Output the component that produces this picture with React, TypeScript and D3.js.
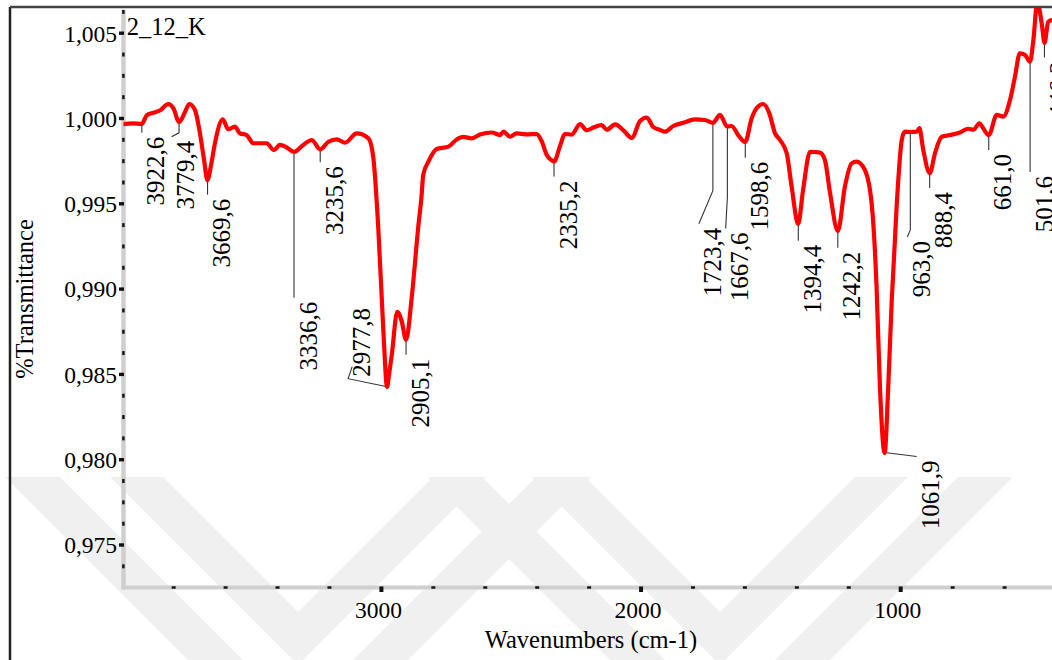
import React from "react";
import * as d3 from "d3";

// FTIR spectrum of sample 2_12_K
const wavenumbers = [
  4000, 3957, 3923, 3904, 3878, 3853, 3821, 3801, 3779, 3756, 3740, 3718, 3699, 3683, 3670, 3656, 3641, 3611,
  3590, 3564, 3545, 3519, 3493, 3442, 3414, 3391, 3365, 3337, 3301, 3268, 3236, 3204, 3172, 3140, 3095, 3050,
  3031, 3012, 2993, 2978, 2971, 2960, 2939, 2922, 2905, 2883, 2858, 2845, 2839, 2819, 2787, 2742, 2710, 2685,
  2652, 2620, 2575, 2543, 2530, 2505, 2479, 2440, 2402, 2383, 2363, 2347, 2335, 2312, 2293, 2267, 2235, 2209,
  2184, 2152, 2132, 2100, 2068, 2036, 2004, 1978, 1953, 1927, 1908, 1876, 1837, 1792, 1754, 1723, 1696, 1668,
  1651, 1626, 1599, 1574, 1555, 1529, 1506, 1484, 1465, 1439, 1420, 1395, 1376, 1349, 1311, 1292, 1272, 1242,
  1215, 1189, 1170, 1138, 1112, 1093, 1080, 1062, 1048, 1035, 1015, 996, 984, 963, 938, 928, 913, 888, 868,
  842, 810, 772, 740, 720, 697, 683, 661, 630, 605, 579, 560, 541, 521, 502, 489, 474, 457, 446, 432, 417, 400,
];
const transmittance = [
  0.99966, 0.99971, 0.99968, 1.00018, 1.00034, 1.00047, 1.00085, 1.0006, 0.99979, 1.0004, 1.00085, 1.0005,
  0.99915, 0.99757, 0.99639, 0.99727, 0.99856, 0.99995, 0.99937, 0.99952, 0.99913, 0.99903, 0.99855, 0.99855,
  0.99815, 0.99845, 0.99831, 0.99804, 0.99845, 0.99874, 0.99819, 0.99864, 0.99878, 0.99858, 0.99913, 0.99884,
  0.99768, 0.99358, 0.98772, 0.98426, 0.98496, 0.98614, 0.98867, 0.98813, 0.98702, 0.98955, 0.99366, 0.99552,
  0.99669, 0.99747, 0.99821, 0.99835, 0.99877, 0.99892, 0.99884, 0.99906, 0.99918, 0.99903, 0.99923, 0.99893,
  0.99913, 0.99907, 0.99909, 0.99868, 0.99786, 0.99757, 0.99748, 0.99839, 0.99909, 0.99906, 0.99967, 0.99931,
  0.99947, 0.99962, 0.99934, 0.99965, 0.9993, 0.99886, 0.99985, 1.00006, 0.9995, 0.99933, 0.99923, 0.99956,
  0.99975, 0.99995, 0.99991, 0.99975, 1.00021, 0.99953, 0.99956, 0.99903, 0.99862, 1.00001, 1.0006, 1.00085,
  1.0003, 0.99913, 0.99874, 0.99796, 0.996, 0.99382, 0.99581, 0.99805, 0.998, 0.99757, 0.99562, 0.99341,
  0.996, 0.99737, 0.99747, 0.99698, 0.99503, 0.99014, 0.98428, 0.98039, 0.98428, 0.98917, 0.99503, 0.99874,
  0.99923, 0.99921, 0.99923, 0.99943, 0.99815, 0.99679, 0.99796, 0.99893, 0.99903, 0.99918, 0.9994, 0.99934,
  0.99972, 0.99944, 0.99903, 1.00021, 1.00011, 1.00108, 1.00245, 1.00382, 1.00372, 1.00333, 1.0046, 1.00683,
  1.00558, 1.00443, 1.00567, 1.00577, 1.00566,
];

const peakWavenumbers = [
  3922.6, 3779.4, 3669.6, 3336.6, 3235.6, 2977.8, 2905.1, 2335.2, 1723.4, 1667.6, 1598.6, 1394.4, 1242.2,
  1061.9, 963.0, 888.4, 661.0, 501.6, 446.3,
];
const peakLabels = [
  "3922,6", "3779,4", "3669,6", "3336,6", "3235,6", "2977,8", "2905,1", "2335,2", "1723,4", "1667,6",
  "1598,6", "1394,4", "1242,2", "1061,9", "963,0", "888,4", "661,0", "501,6", "446,3",
];

const yMajorTicks = [0.975, 0.98, 0.985, 0.99, 0.995, 1.0, 1.005];
const xMajorTicks = [3000, 2000, 1000];

// leader line shapes (pixel offsets from the peak on the curve)
const leaderPaths: number[][][] = [
  [[0, 9]],
  [[0, 11], [-7.5, 15]],
  [[0, 15]],
  [[0, 146]],
  [[0, 13]],
  [[-39, -8], [-35, -20]],
  [[0, 15]],
  [[0, 15]],
  [[0, 68], [-14, 101]],
  [[0, 71], [-1.7, 102]],
  [[0, 16]],
  [[0, 18]],
  [[0, 17]],
  [[32, 4]],
  [[0, 98], [-3, 105]],
  [[0, 15]],
  [[0, 15]],
  [[0, 111]],
  [[0, 15]],
];

const W = 1052;
const H = 660;
const FONT =
  '"Liberation Serif", "Times New Roman", Times, Tinos, "Noto Serif", "DejaVu Serif", FreeSerif, "Nimbus Roman", serif';
const txt = { fontFamily: FONT };

const x = d3.scaleLinear().domain([4000, 400]).range([121.75, 1056.5]);
const y = d3.scaleLinear().domain([0.975, 1.005]).range([545, 33.2]);
const plotTop = 8;
const plotBottom = 587.5;
const axisX = 123.5;

const fmt = (v: number) => d3.format(".3f")(v).replace(".", ",");

function tAt(wn: number) {
  for (let i = 0; i < wavenumbers.length - 1; i++) {
    const a = wavenumbers[i];
    const b = wavenumbers[i + 1];
    if (wn <= a && wn >= b) {
      const f = (a - wn) / (a - b);
      return transmittance[i] + f * (transmittance[i + 1] - transmittance[i]);
    }
  }
  return transmittance[transmittance.length - 1];
}

// faint thesis watermark: nested chevrons
function chevron(cx: number, half: number, band: number) {
  const top = 477;
  const pts = [
    [cx - half - band, top],
    [cx - half, top],
    [cx, top + half],
    [cx + half, top],
    [cx + half + band, top],
    [cx, top + half + band],
  ];
  return pts.map((p) => p.join(",")).join(" ");
}
const watermark = [
  chevron(298, 135, 53),
  chevron(298, 238, 55),
  chevron(720, 135, 53),
  chevron(720, 238, 55),
];

export default function App() {
  const points = wavenumbers.map((w, i) => [x(w), y(transmittance[i])] as [number, number]);
  const line = d3.line().curve(d3.curveMonotoneX)(points) || "";

  const yMinor = d3.range(0.97375, 1.0065, 0.00125).filter(
    (v) => !yMajorTicks.some((m) => Math.abs(m - v) < 1e-6) && y(v) < plotBottom - 3 && y(v) > 10
  );
  const xMinor = d3.range(3800, 399, -200).filter((v) => v % 1000 !== 0 && x(v) < W);

  return (
    <div style={{ position: "absolute", left: 0, top: 0 }}>
      <svg width={W} height={H} style={{ display: "block", background: "#fff", fontFamily: FONT }}>
        <defs>
          <clipPath id="plot">
            <rect x={axisX} y={plotTop} width={W - axisX} height={plotBottom - plotTop} />
          </clipPath>
        </defs>
        <rect width={W} height={H} fill="#fff" />
        {watermark.map((p, i) => (
          <polygon key={i} points={p} fill="#f0f0f0" />
        ))}

        {/* axes */}
        <line x1={axisX} x2={axisX} y1={10} y2={plotBottom + 2} stroke="#cfcfcf" strokeWidth={4.5} />
        <line x1={axisX - 2} x2={W} y1={plotBottom} y2={plotBottom} stroke="#cfcfcf" strokeWidth={4} />
        {yMajorTicks.map((t) => (
          <g key={t}>
            <rect x={119} y={y(t) - 1.7} width={5} height={3.4} fill="#111" />
            <text x={117} y={y(t) + 8.3} fontSize={23.5} textAnchor="end" fill="#000" style={txt}>
              {fmt(t)}
            </text>
          </g>
        ))}
        {yMinor.map((t) => (
          <rect key={t} x={122.2} y={y(t) - 2} width={2.4} height={4} fill="#111" />
        ))}
        {xMajorTicks.map((t) => (
          <g key={t}>
            <rect x={x(t) - 2} y={586.5} width={4} height={5.5} fill="#111" />
            <text x={x(t) - 3} y={618} fontSize={23.5} textAnchor="middle" fill="#000" style={txt}>
              {t}
            </text>
          </g>
        ))}
        {xMinor.map((t) => (
          <rect key={t} x={x(t) - 2} y={586.3} width={4} height={2.4} fill="#111" />
        ))}

        <text x={591} y={648} fontSize={24.5} textAnchor="middle" fill="#000" style={txt}>
          Wavenumbers (cm-1)
        </text>
        <text
          transform="translate(33,299) rotate(-90)"
          fontSize={24.5}
          textAnchor="middle"
          fill="#000"
          style={txt}
        >
          %Transmittance
        </text>
        <text x={126.7} y={35} fontSize={24.5} fill="#000" style={txt}>
          2_12_K
        </text>

        {/* peak leaders and labels */}
        {peakWavenumbers.map((wn, i) => {
          const px = x(wn);
          const py = y(tAt(wn));
          const path = leaderPaths[i];
          const pts = [[px, py], ...path.map(([dx, dy]) => [px + dx, py + dy])];
          const end = pts[pts.length - 1];
          const upward = path[0][1] < 0;
          const tx = upward ? px - 17 : end[0] + 22.5;
          const ty = upward ? py - 10 : end[1] + 4;
          return (
            <g key={wn}>
              <polyline
                points={pts.map((p) => p.join(",")).join(" ")}
                fill="none"
                stroke="#333"
                strokeWidth={1.1}
              />
              <text
                transform={`translate(${tx},${ty}) rotate(-90)`}
                fontSize={25}
                textAnchor={upward ? "start" : "end"}
                fill="#000"
                style={txt}
              >
                {peakLabels[i]}
              </text>
            </g>
          );
        })}

        <path
          d={line}
          fill="none"
          stroke="#ff0000"
          strokeWidth={4.2}
          strokeLinejoin="round"
          clipPath="url(#plot)"
        />

        {/* outer frame */}
        <line x1={10} x2={10} y1={7} y2={H} stroke="#222" strokeWidth={2.5} />
        <line x1={10} x2={W} y1={7} y2={7} stroke="#444" strokeWidth={2.5} />
      </svg>
    </div>
  );
}
